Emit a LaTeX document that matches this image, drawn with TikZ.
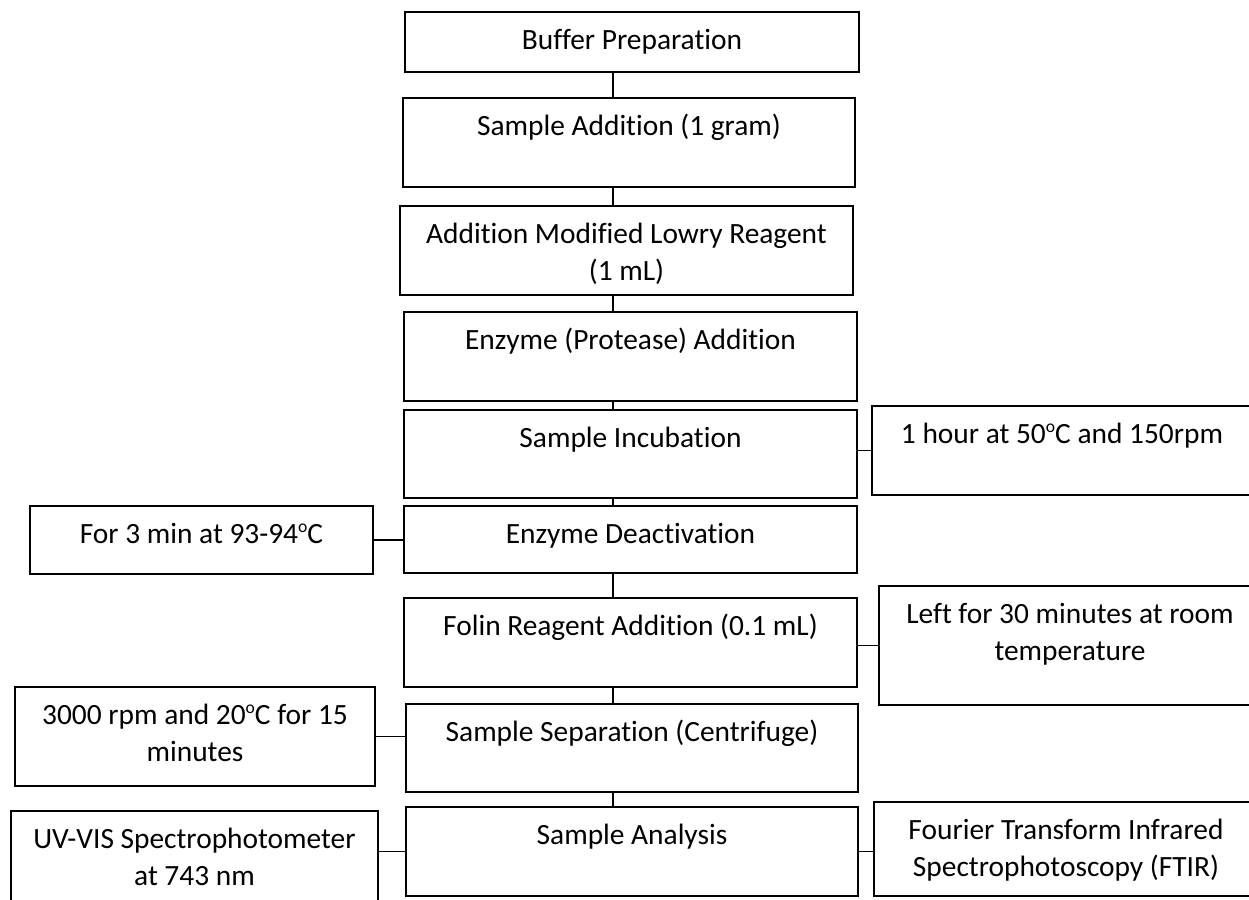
\documentclass[tikz,border=0pt]{standalone}
\usepackage{fontspec}
\setmainfont{Carlito}[Ligatures=NoCommon]
\newcommand{\degsign}{\raisebox{0.78ex}{\fontsize{8.8}{8.8}\selectfont o}}
\begin{document}
\begin{tikzpicture}[x=0.5pt,y=-0.5pt,
		stage/.style={draw=black, line width=0.9pt, inner sep=0pt},
		txt/.style={anchor=north, inner sep=0pt, yshift=-6.2pt, align=center, font=\fontsize{14.7}{18.3}\selectfont},
		link/.style={draw=black, line width=0.9pt}]
		\useasboundingbox (0,0) rectangle (1249,900);
		% main column
		\node[stage, minimum width=227pt, minimum height=30pt, label={[txt]north:\strut Buffer Preparation}] (buffer) at (632,42) {};
		\node[stage, minimum width=226pt, minimum height=44.5pt, label={[txt]north:\strut Sample Addition (1 gram)}] (sample) at (629,142.5) {};
		\node[stage, minimum width=226.5pt, minimum height=44.5pt, label={[txt]north:{\strut Addition Modified Lowry Reagent\\(1 mL)}}] (lowry) at (626.5,250.5) {};
		\node[stage, minimum width=226.5pt, minimum height=44.5pt, label={[txt]north:\strut Enzyme (Protease) Addition}] (enzyme) at (630.5,356.5) {};
		\node[stage, minimum width=226.5pt, minimum height=44pt, label={[txt]north:\strut Sample Incubation}] (incub) at (630.5,454) {};
		\node[stage, minimum width=226.5pt, minimum height=33.5pt, label={[txt]north:\strut Enzyme Deactivation}] (deact) at (630.5,539.5) {};
		\node[stage, minimum width=226.5pt, minimum height=44.5pt, label={[txt]north:\strut Folin Reagent Addition (0.1 mL)}] (folin) at (630.5,642.5) {};
		\node[stage, minimum width=226pt, minimum height=44pt, label={[txt]north:\strut Sample Separation (Centrifuge)}] (separ) at (632,748) {};
		\node[stage, minimum width=226pt, minimum height=44.5pt, label={[txt]north:\strut Sample Analysis}] (analysis) at (632,851.5) {};
		% side conditions
		\node[stage, minimum width=190pt, minimum height=44.5pt, label={[txt]north:\strut 1 hour at 50\degsign C and 150rpm}] (hour) at (1062,450.5) {};
		\node[stage, minimum width=171.5pt, minimum height=34pt, label={[txt]north:\strut For 3 min at 93-94\degsign C}] (heat) at (201.5,540) {};
		\node[stage, minimum width=191pt, minimum height=59.5pt, label={[txt]north:{\strut Left for 30 minutes at room\\temperature}}] (room) at (1070,645.5) {};
		\node[stage, minimum width=180pt, minimum height=49.5pt, label={[txt]north:{\strut 3000 rpm and 20\degsign C for 15\\minutes}}] (spin) at (195,736.5) {};
		\node[stage, minimum width=183.5pt, minimum height=47pt, label={[txt]north:{\strut UV-VIS Spectrophotometer\\at 743 nm}}] (uvvis) at (194.5,858) {};
		\node[stage, minimum width=192pt, minimum height=47pt, label={[txt]north:{\strut Fourier Transform Infrared\\Spectrophotoscopy (FTIR)}}] (ftir) at (1066,849) {};
		% connectors
		\coordinate (spine) at (613,0);
		\foreach \a/\b in {buffer/sample, sample/lowry, lowry/enzyme, enzyme/incub, incub/deact, deact/folin, folin/separ, separ/analysis}
			\draw[link] (\a.south -| spine) -- (\b.north -| spine);
		\draw[link] (incub.east |- hour.west) -- (hour.west);
		\draw[link] (heat.east) -- (heat.east -| deact.west);
		\draw[link] (folin.east |- room.west) -- (room.west);
		\draw[link] (spin.east) -- (spin.east -| separ.west);
		\draw[link] (uvvis.east |- analysis.west) -- (analysis.west);
		\draw[link] (analysis.east) -- (analysis.east -| ftir.west);
	\end{tikzpicture}
\end{document}
